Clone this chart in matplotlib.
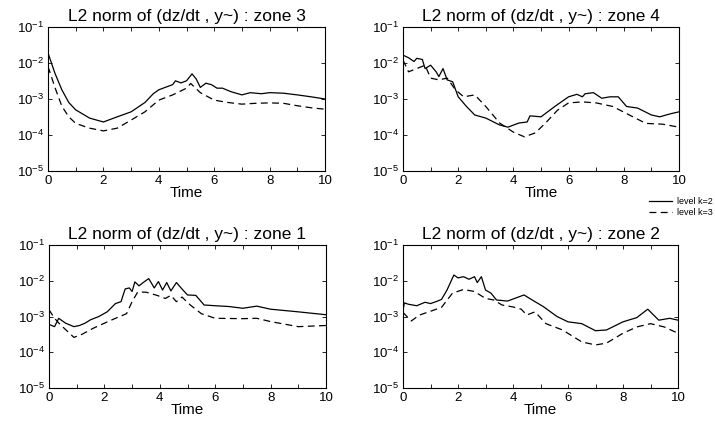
import matplotlib
matplotlib.use("Agg")
import matplotlib.pyplot as plt
import matplotlib.ticker as mticker
from matplotlib.lines import Line2D

plt.rcParams['font.family'] = ['Liberation Sans', 'DejaVu Sans']
plt.rcParams['mathtext.fontset'] = 'custom'
plt.rcParams['mathtext.rm'] = 'Liberation Sans'
plt.rcParams['mathtext.it'] = 'Liberation Sans'

# ---------------- data ----------------
# zone 3
z3_t_k2 = [0, 0.25, 0.5, 0.75, 1.0, 1.5, 2.0, 2.5, 3.0, 3.5, 3.8, 4.0, 4.3, 4.5, 4.6, 4.8, 5.0, 5.2, 5.35, 5.5, 5.7, 5.9, 6.1, 6.3, 6.6, 7.0, 7.3, 7.7, 8.0, 8.5, 9.0, 9.5, 10.0]
z3_k2 = [1.9e-2, 5.2e-3, 1.8e-3, 8.0e-4, 5.0e-4, 2.95e-4, 2.3e-4, 3.2e-4, 4.4e-4, 8.0e-4, 1.4e-3, 1.8e-3, 2.2e-3, 2.5e-3, 3.2e-3, 2.8e-3, 3.2e-3, 5.0e-3, 3.6e-3, 2.1e-3, 2.75e-3, 2.5e-3, 2.0e-3, 2.0e-3, 1.6e-3, 1.3e-3, 1.5e-3, 1.4e-3, 1.5e-3, 1.45e-3, 1.3e-3, 1.15e-3, 1.0e-3]
z3_t_k3 = [0, 0.25, 0.5, 0.75, 1.0, 1.5, 2.0, 2.5, 3.0, 3.5, 4.0, 4.5, 5.0, 5.15, 5.5, 6.0, 6.5, 7.0, 7.5, 8.0, 8.5, 9.0, 9.5, 10.0]
z3_k3 = [8.0e-3, 2.1e-3, 6.3e-4, 3.2e-4, 2.1e-4, 1.55e-4, 1.3e-4, 1.55e-4, 2.6e-4, 4.4e-4, 9.3e-4, 1.3e-3, 2.0e-3, 2.7e-3, 1.5e-3, 9.3e-4, 8.0e-4, 7.2e-4, 7.6e-4, 7.8e-4, 7.6e-4, 6.5e-4, 5.7e-4, 5.2e-4]

# zone 4
z4_t_k2 = [0, 0.2, 0.4, 0.5, 0.7, 0.8, 1.0, 1.2, 1.3, 1.45, 1.6, 1.8, 2.0, 2.3, 2.6, 3.0, 3.5, 3.8, 4.2, 4.5, 4.6, 5.0, 5.5, 6.0, 6.3, 6.5, 6.6, 6.9, 7.2, 7.5, 7.8, 8.1, 8.5, 9.0, 9.3, 9.7, 10.0]
z4_k2 = [1.65e-2, 1.4e-2, 1.1e-2, 1.35e-2, 1.25e-2, 7.0e-3, 8.7e-3, 5.7e-3, 4.2e-3, 7.0e-3, 3.4e-3, 3.0e-3, 1.15e-3, 6.2e-4, 3.6e-4, 2.95e-4, 1.9e-4, 1.65e-4, 2.15e-4, 2.3e-4, 3.4e-4, 3.2e-4, 6.2e-4, 1.15e-3, 1.35e-3, 1.15e-3, 1.4e-3, 1.5e-3, 1.05e-3, 1.15e-3, 1.15e-3, 6.2e-4, 5.6e-4, 3.6e-4, 3.2e-4, 3.9e-4, 4.4e-4]
z4_t_k3 = [0, 0.2, 0.5, 0.8, 1.0, 1.3, 1.6, 1.9, 2.2, 2.6, 3.0, 3.5, 4.0, 4.4, 4.8, 5.2, 5.6, 6.0, 6.5, 7.0, 7.6, 8.2, 8.8, 9.4, 10.0]
z4_k3 = [1.2e-2, 5.7e-3, 7.0e-3, 8.7e-3, 3.8e-3, 3.4e-3, 3.8e-3, 1.8e-3, 1.15e-3, 1.3e-3, 6.2e-4, 2.15e-4, 1.2e-4, 8.9e-5, 1.15e-4, 2.3e-4, 4.9e-4, 7.8e-4, 8.3e-4, 7.8e-4, 6.2e-4, 3.6e-4, 2.1e-4, 2.0e-4, 1.65e-4]

# zone 1
z1_t_k2 = [0, 0.2, 0.35, 0.6, 0.9, 1.1, 1.3, 1.5, 1.8, 2.1, 2.4, 2.6, 2.75, 2.9, 3.0, 3.1, 3.25, 3.4, 3.6, 3.8, 3.95, 4.1, 4.25, 4.4, 4.6, 4.8, 5.0, 5.3, 5.6, 6.0, 6.5, 7.0, 7.5, 8.0, 9.0, 10.0]
z1_k2 = [6.0e-4, 5.2e-4, 8.9e-4, 6.5e-4, 5.2e-4, 5.6e-4, 6.5e-4, 8.1e-4, 1.0e-3, 1.35e-3, 2.3e-3, 2.6e-3, 5.9e-3, 6.3e-3, 5.0e-3, 9.3e-3, 7.2e-3, 8.9e-3, 1.15e-2, 6.3e-3, 9.5e-3, 5.5e-3, 8.9e-3, 5.2e-3, 8.9e-3, 5.9e-3, 4.0e-3, 3.9e-3, 2.1e-3, 2.0e-3, 1.9e-3, 1.7e-3, 1.95e-3, 1.6e-3, 1.35e-3, 1.12e-3]
z1_t_k3 = [0, 0.2, 0.4, 0.6, 0.9, 1.2, 1.6, 2.0, 2.4, 2.8, 3.0, 3.2, 3.5, 3.9, 4.2, 4.4, 4.6, 4.8, 5.1, 5.5, 6.0, 7.0, 7.5, 8.0, 9.0, 10.0]
z1_k3 = [1.55e-3, 8.9e-4, 6.0e-4, 4.3e-4, 2.6e-4, 3.2e-4, 4.7e-4, 6.5e-4, 8.9e-4, 1.2e-3, 2.6e-3, 4.8e-3, 4.8e-3, 3.9e-3, 3.2e-3, 3.9e-3, 2.6e-3, 3.5e-3, 2.1e-3, 1.2e-3, 8.9e-4, 8.7e-4, 8.9e-4, 7.2e-4, 5.2e-4, 5.6e-4]

# zone 2
z2_t_k2 = [0, 0.05, 0.2, 0.5, 0.8, 1.0, 1.2, 1.4, 1.6, 1.85, 2.0, 2.2, 2.4, 2.6, 2.7, 2.85, 3.0, 3.2, 3.4, 3.8, 4.4, 4.8, 5.1, 5.6, 6.0, 6.5, 7.0, 7.4, 8.0, 8.5, 8.9, 9.3, 9.7, 10.0]
z2_k2 = [1.5e-3, 2.4e-3, 2.2e-3, 2.0e-3, 2.5e-3, 2.3e-3, 2.6e-3, 3.0e-3, 5.5e-3, 1.45e-2, 1.2e-2, 1.3e-2, 1.1e-2, 1.3e-2, 8.9e-3, 1.3e-2, 5.5e-3, 4.5e-3, 2.9e-3, 2.7e-3, 4.0e-3, 2.6e-3, 1.9e-3, 1.0e-3, 7.1e-4, 6.3e-4, 4.0e-4, 4.2e-4, 7.1e-4, 9.3e-4, 1.6e-3, 7.9e-4, 8.9e-4, 7.9e-4]
z2_t_k3 = [0, 0.3, 0.6, 1.0, 1.4, 1.8, 2.2, 2.6, 3.0, 3.3, 3.6, 4.0, 4.3, 4.5, 4.8, 5.2, 5.8, 6.5, 7.0, 7.4, 8.0, 8.5, 9.0, 9.5, 10.0]
z2_k3 = [1.3e-3, 7.5e-4, 1.1e-3, 1.4e-3, 1.8e-3, 4.5e-3, 5.7e-3, 5.0e-3, 3.2e-3, 2.9e-3, 2.1e-3, 1.85e-3, 1.6e-3, 1.1e-3, 1.35e-3, 6.3e-4, 4.2e-4, 1.95e-4, 1.6e-4, 1.8e-4, 3.4e-4, 5.1e-4, 6.3e-4, 5.1e-4, 3.4e-4]

titles = ["L2 norm of (dz/dt , y~) : zone 3", "L2 norm of (dz/dt , y~) : zone 4",
          "L2 norm of (dz/dt , y~) : zone 1", "L2 norm of (dz/dt , y~) : zone 2"]
legend_labels = ["level k=2", "level k=3"]
x_ticks = [0, 1, 2, 3, 4, 5, 6, 7, 8, 9, 10]
x_ticklabels = ["0", "", "2", "", "4", "", "6", "", "8", "", "10"]
xlabel = "Time"

panels = [
    (z3_t_k2, z3_k2, z3_t_k3, z3_k3),
    (z4_t_k2, z4_k2, z4_t_k3, z4_k3),
    (z1_t_k2, z1_k2, z1_t_k3, z1_k3),
    (z2_t_k2, z2_k2, z2_t_k3, z2_k3),
]

W, H = 715, 422
fig = plt.figure(figsize=(W / 100, H / 100), dpi=100)

# axes rectangles in pixels: left, top, right, bottom
rects = [(48, 27, 325, 171), (403, 27, 679, 171), (49, 245, 326, 388), (403, 245, 678, 388)]

dash = (0, (5.5, 3.5))
for (l, t, r, b), title, (tk2, yk2, tk3, yk3) in zip(rects, titles, panels):
    ax = fig.add_axes([l / W, 1 - b / H, (r - l) / W, (b - t) / H])
    ax.plot(tk2, yk2, color='black', lw=0.9, linestyle='-')
    ax.plot(tk3, yk3, color='black', lw=0.9, linestyle=dash)
    ax.set_yscale('log')
    ax.set_ylim(1e-5, 1e-1)
    ax.set_xlim(0, 10)
    ax.yaxis.set_major_locator(mticker.LogLocator(base=10, numticks=10))
    ax.yaxis.set_minor_locator(mticker.NullLocator())
    ax.set_xticks(x_ticks)
    ax.set_xticklabels(x_ticklabels)
    ax.tick_params(direction='in', top=True, right=True, length=3, width=0.6,
                   labelsize=9.5, pad=3)
    for s in ax.spines.values():
        s.set_linewidth(0.8)
    ax.set_title(title, fontsize=12.5, pad=4)
    ax.set_xlabel(xlabel, fontsize=11, labelpad=-1)

handles = [Line2D([], [], color='black', lw=0.9, linestyle='-'),
           Line2D([], [], color='black', lw=0.9, linestyle=dash)]
fig.legend(handles, legend_labels, loc='center right', bbox_to_anchor=(1.005, 1 - 207 / H),
           frameon=False, fontsize=6.5, handlelength=2.6, handletextpad=0.6,
           labelspacing=0.2, borderpad=0.1)

fig.savefig("out.png", dpi=100)
